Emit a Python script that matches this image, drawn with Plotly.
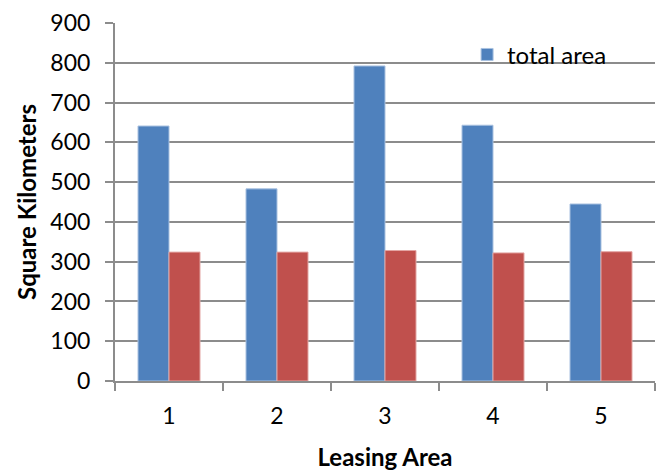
import plotly.graph_objects as go

categories = ["1", "2", "3", "4", "5"]
total_area = [641, 483, 792, 643, 445]
second_area = [324, 324, 328, 322, 325]
y_ticks = [0, 100, 200, 300, 400, 500, 600, 700, 800, 900]

BLUE = "#4F81BD"
RED = "#C0504D"
GRID = "#8C8C8C"
FONT = "Lato, 'Open Sans', sans-serif"

fig = go.Figure()
fig.add_trace(go.Bar(
    x=categories, y=total_area, name="total area",
    marker=dict(color=BLUE, line=dict(color="#A9C1E0", width=1)),
))
fig.add_trace(go.Bar(
    x=categories, y=second_area, name="",
    marker=dict(color=RED, line=dict(color="#E3A5A3", width=1)),
    showlegend=False,
))

fig.update_layout(
    width=667, height=472,
    margin=dict(l=107, r=20, t=15, b=99, autoexpand=False),
    paper_bgcolor="white", plot_bgcolor="white",
    barmode="group", bargap=0.426, bargroupgap=0,
    font=dict(family=FONT, color="black", size=23),
    showlegend=True,
    legend=dict(
        x=0.652, y=0.911, xanchor="left", yanchor="middle",
        font=dict(size=24, family=FONT),
        bgcolor="rgba(0,0,0,0)", itemwidth=30,
        tracegroupgap=0,
    ),
    xaxis=dict(
        type="category",
        showline=True, linecolor=GRID, linewidth=2,
        ticks="outside", ticklen=8, tickcolor=GRID, tickwidth=2,
        tickson="boundaries",
        showgrid=False,
        tickfont=dict(size=23, family=FONT),
        ticklabelstandoff=13,
        automargin=False,
        title=dict(text="<b>Leasing Area</b>", font=dict(size=24, family=FONT), standoff=22),
    ),
    yaxis=dict(
        range=[0, 900], tickvals=y_ticks,
        showline=True, linecolor=GRID, linewidth=2,
        ticks="outside", ticklen=8, tickcolor=GRID, tickwidth=2,
        showgrid=True, gridcolor=GRID, gridwidth=2,
        zeroline=False,
        automargin=False,
        ticklabelstandoff=10,
        tickfont=dict(size=23, family=FONT),
        title=dict(text="<b>Square Kilometers</b>", font=dict(size=24, family=FONT), standoff=7),
    ),
)

fig.write_html("out.html")
